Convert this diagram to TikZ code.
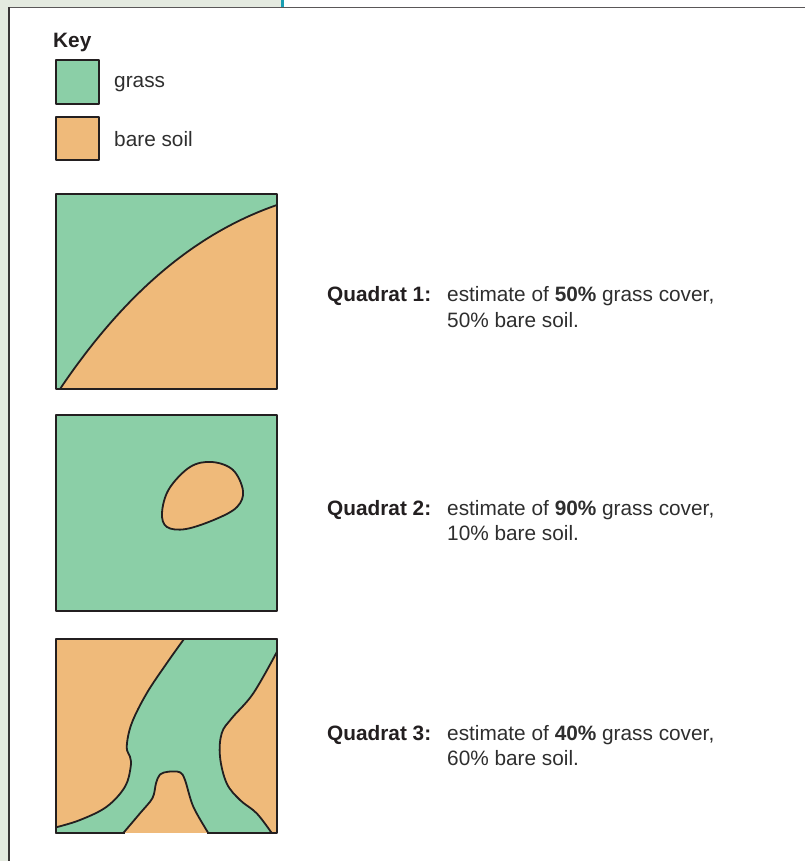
\documentclass[tikz,border=0pt]{standalone}
\usepackage{fontspec}
\setmainfont{Liberation Sans}
\definecolor{grass}{HTML}{8BCFA7}
\definecolor{soil}{HTML}{EFBA7A}
\definecolor{bgstrip}{HTML}{E4EAE0}
\definecolor{teal}{HTML}{1A9FB3}
\definecolor{ink}{HTML}{231F20}
\definecolor{txt}{HTML}{2E2E2E}
\tikzset{
  edge/.style={draw=ink, line width=1.8pt, line join=round},
  curve/.style={draw=ink, line width=1.8pt, line cap=round},
  lbl/.style={anchor=base west, inner sep=0pt, text=txt, font=\fontsize{20.8}{26}\selectfont},
  blbl/.style={lbl, font=\fontsize{20.8}{26}\selectfont\bfseries, text=ink},
}
\begin{document}
\begin{tikzpicture}[x=1pt, y=-1pt]
\useasboundingbox (0,0) rectangle (805,861);
% frame
\fill[bgstrip] (0,0) rectangle (9,861);
\fill[bgstrip] (0,0) rectangle (282,7.5);
\draw[teal, line width=2.5pt] (282.5,0) -- (282.5,7.5);
\draw[draw=ink!75, line width=1.6pt] (8.5,7.5) -- (805,7.5);
\draw[draw=ink!90, line width=1.6pt] (9,7.5) -- (9,861);

% key
\node[blbl] (key) at (53,48) {Key};
\filldraw[fill=grass, edge] (56,60) rectangle (99,104);
\node[lbl] (kgrass) at (114,88) {grass};
\filldraw[fill=soil, edge] (56,117) rectangle (99,160);
\node[lbl] (ksoil) at (114,147) {bare soil};

% quadrat 1
\fill[soil] (56,194) rectangle (277,389);
\fill[grass] (56,194) -- (277,194) -- (277,205) .. controls (190,235) and (120,300) .. (60,389) -- (56,389) -- cycle;
\draw[curve] (277,205) .. controls (190,235) and (120,300) .. (60,389);
\draw[edge] (56,194) rectangle (277,389);
\node[blbl] (q1) at (327,301) {Quadrat 1:};
\node[lbl] (q1a) at (447,301) {estimate of \textbf{50\%} grass cover,};
\node[lbl] (q1b) at (447,327) {50\% bare soil.};

% quadrat 2
\fill[grass] (56,415) rectangle (277,611);
\filldraw[fill=soil, curve] plot[smooth cycle, tension=0.6] coordinates {(212,462) (233,470) (243,491) (237,507) (216,519) (186,529) (167,527) (162,513) (169,489) (190,467)};
\draw[edge] (56,415) rectangle (277,611);
\node[blbl] (q2) at (327,515) {Quadrat 2:};
\node[lbl] (q2a) at (447,515) {estimate of \textbf{90\%} grass cover,};
\node[lbl] (q2b) at (447,540) {10\% bare soil.};

% quadrat 3
\fill[soil] (56,639) rectangle (277,833);
\filldraw[fill=grass, curve, line join=round]
  (184,639)
  -- plot[smooth, tension=0.6] coordinates {(184,639) (166.7,663.3) (146.7,693.3) (131.7,723.3) (126.7,746.7) (130,756.7) (130.7,766.7) (125,786.7) (106.7,806.7) (80,820) (56,827.3)}
  -- (56,833) -- (123.3,833)
  -- plot[smooth, tension=0.55] coordinates {(123.3,833) (140,813.3) (152.5,798) (156,783.3) (160,774.5) (168.3,771.7) (180,772.3) (185,780) (193.3,806.7) (208.3,833)}
  -- (271.7,833)
  -- plot[smooth, tension=0.6] coordinates {(271.7,833) (256.7,813.3) (240,800) (226.7,783.3) (220,756.7) (221.7,733.3) (231.7,718.3) (253.3,693.3) (277,651.7)}
  -- (277,639) -- cycle;
\draw[edge] (125,833) -- (56,833) -- (56,639) -- (277,639) -- (277,833) -- (207,833);
\node[blbl] (q3) at (327,740) {Quadrat 3:};
\node[lbl] (q3a) at (447,740) {estimate of \textbf{40\%} grass cover,};
\node[lbl] (q3b) at (447,765) {60\% bare soil.};
\end{tikzpicture}
\end{document}
